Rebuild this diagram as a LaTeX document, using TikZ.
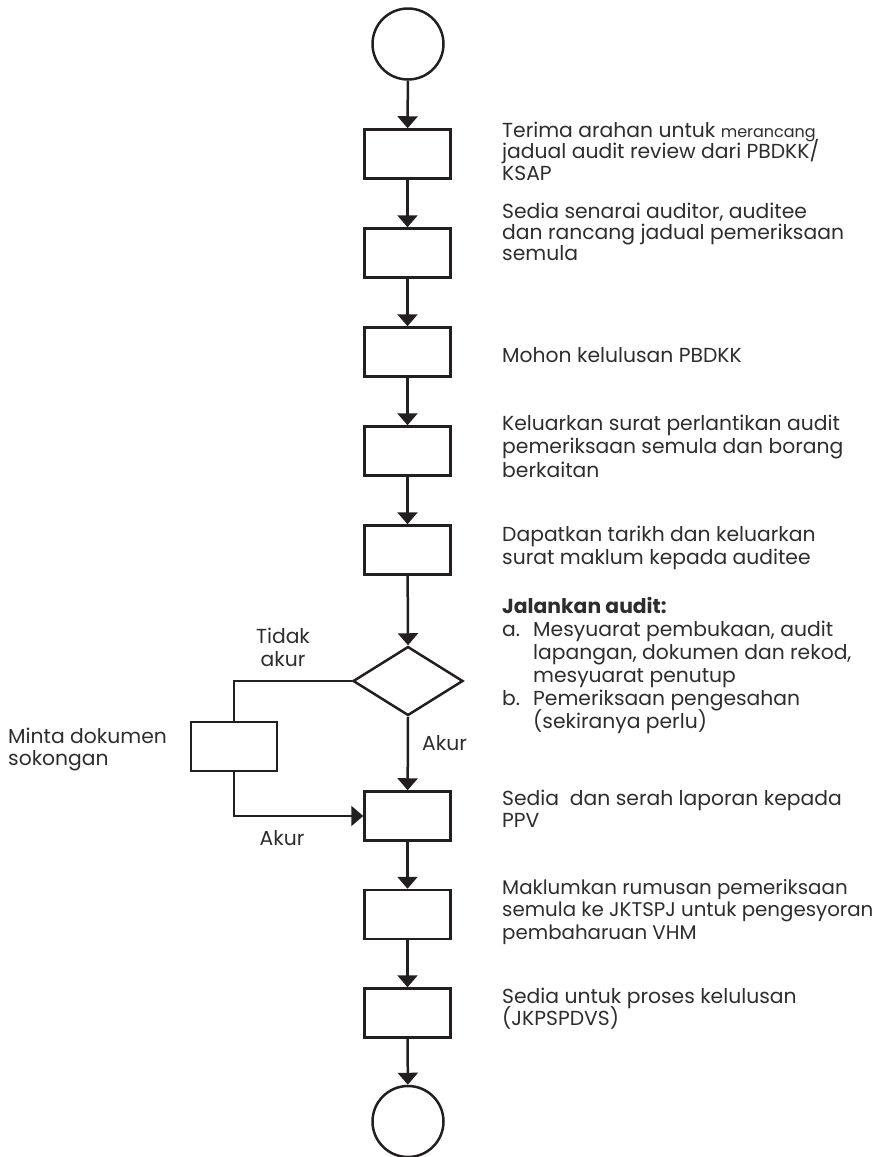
\documentclass[tikz,border=0pt]{standalone}
\usepackage{fontspec}
\setmainfont{Poppins}
\usetikzlibrary{shapes.geometric,arrows.meta}
\definecolor{ink}{RGB}{35,31,32}
\definecolor{txt}{RGB}{45,45,45}
\tikzset{
  stepbox/.style={draw=ink,line width=2.5pt,minimum width=86pt,minimum height=49pt,inner sep=0pt},
  term/.style={draw=ink,line width=2.5pt,circle,minimum size=71pt,inner sep=0pt},
  decide/.style={draw=ink,line width=2.5pt,diamond,minimum width=110pt,minimum height=69pt,inner sep=0pt},
  conn/.style={draw=ink,line width=2.5pt},
  arr/.style={conn,-{Triangle[width=20pt,length=12pt]}},
  desc/.style={anchor=base west,inner sep=0pt,align=left,text=txt,font=\fontsize{20.3}{#1}\selectfont},
  desc/.default=23,
  lbl/.style={inner sep=0pt,text=txt,font=\fontsize{20.3}{23}\selectfont},
}
\begin{document}
\lineskiplimit=-100pt\relax
\begin{tikzpicture}[x=1pt,y=-1pt]
\useasboundingbox (0,0) rectangle (884,1157);
% shapes
\node[term] (start) at (408,44) {};
\node[stepbox] (b1) at (407.5,154) {};
\node[stepbox] (b2) at (407.5,253) {};
\node[stepbox] (b3) at (407.5,352) {};
\node[stepbox] (b4) at (407.5,451) {};
\node[stepbox] (b5) at (407.5,550) {};
\node[decide] (dia) at (408,681) {};
\node[stepbox] (side) at (234,746.5) {};
\node[stepbox] (b7) at (407.5,816) {};
\node[stepbox] (b8) at (407.5,914.5) {};
\node[stepbox] (b9) at (407.5,1013) {};
\node[term] (stop) at (408,1121.5) {};
% connectors
\draw[arr] (start) -- (b1);
\draw[arr] (b1) -- (b2);
\draw[arr] (b2) -- (b3);
\draw[arr] (b3) -- (b4);
\draw[arr] (b4) -- (b5);
\draw[arr] (b5) -- (dia.north);
\draw[arr] (dia.south) -- (b7);
\draw[conn] (dia.west) -| (side.north);
\draw[arr] (side.south) |- (b7.west);
\draw[arr] (b7) -- (b8);
\draw[arr] (b8) -- (b9);
\draw[arr] (b9) -- (stop);
% labels (anchor = baseline of last line)
\node[lbl,align=center,anchor=base] (tidak) at (283,666) {Tidak\\akur};
\node[lbl,anchor=base west] (akur1) at (422,750) {Akur};
\node[lbl,anchor=base] (akur2) at (282,845) {Akur};
\node[desc=22] (minta) at (8,765) {Minta dokumen\\sokongan};
% descriptions
\node[desc=21.5] (t1) at (502,180) {Terima arahan untuk {\fontsize{16}{21}\selectfont merancang}\\jadual audit review dari PBDKK/\\KSAP};
\node[desc=21] (t2) at (502,260) {Sedia senarai auditor, auditee\\dan rancang jadual pemeriksaan\\semula};
\node[desc] (t3) at (502,362) {Mohon kelulusan PBDKK};
\node[desc=23.5] (t4) at (502,477) {Keluarkan surat perlantikan audit\\pemeriksaan semula dan borang\\berkaitan};
\node[desc=23] (t5) at (502,564) {Dapatkan tarikh dan keluarkan\\surat maklum kepada auditee};
\node[desc=23] (t6) at (502,728) {\textbf{Jalankan audit:}\\
\makebox[31pt][l]{a.}Mesyuarat pembukaan, audit\\
\hspace*{31pt}lapangan, dokumen dan rekod,\\
\hspace*{31pt}mesyuarat penutup\\
\makebox[31pt][l]{b.}Pemeriksaan pengesahan\\
\hspace*{31pt}(sekiranya perlu)};
\node[desc=22] (t7) at (502,827) {Sedia\ \ dan serah laporan kepada\\PPV};
\node[anchor=base west,inner sep=0pt,align=left,text=txt,font=\fontsize{19.8}{22.5}\selectfont] (t8) at (502,939) {Maklumkan rumusan pemeriksaan\\semula ke JKTSPJ untuk pengesyoran\\pembaharuan VHM};
\node[desc=22] (t9) at (502,1025) {Sedia untuk proses kelulusan\\(JKPSPDVS)};
\end{tikzpicture}
\end{document}
